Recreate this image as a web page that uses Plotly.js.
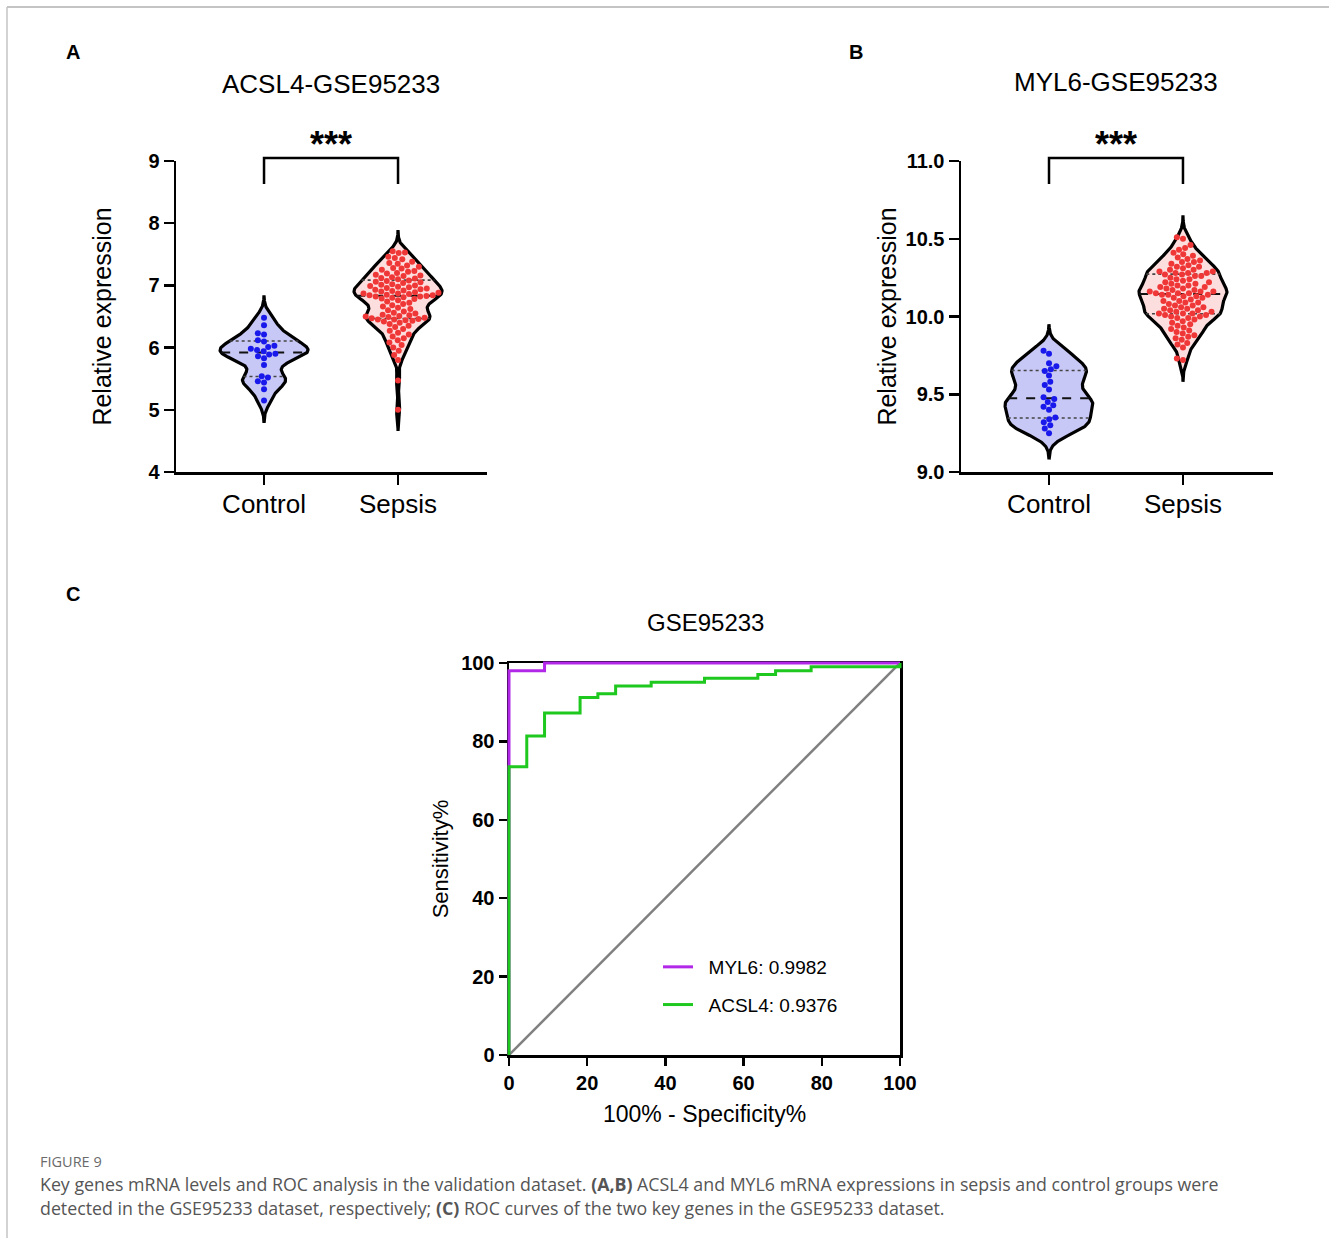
<!DOCTYPE html>
<html><head><meta charset="utf-8">
<script src="https://cdn.plot.ly/plotly-3.0.1.min.js"></script>
<style>html,body{margin:0;padding:0;background:#fff;}#chart{width:1329px;height:1238px;}</style>
</head><body><div id="chart"></div>
<script>
// ---------------- DATA ----------------
const categories = ['Control', 'Sepsis'];
const acsl4Control = [6.48, 6.36, 6.23, 6.21, 6.12, 6.10, 6.03, 6.01, 5.98, 5.96, 5.94, 5.90, 5.89, 5.86, 5.83, 5.72, 5.54, 5.52, 5.46, 5.44, 5.33, 5.15];
const acsl4Sepsis = [7.55, 7.53, 7.52, 7.46, 7.44, 7.42, 7.38, 7.36, 7.35, 7.32, 7.30, 7.28, 7.27, 7.25, 7.23, 7.22, 7.20, 7.19, 7.17, 7.16, 7.15, 7.13, 7.12, 7.11, 7.10,
  7.08, 7.07, 7.06, 7.05, 7.04, 7.02, 7.01, 7.00, 6.99, 6.98, 6.97, 6.96, 6.95, 6.94, 6.93, 6.92, 6.91, 6.90, 6.89, 6.88, 6.87, 6.87, 6.86, 6.85, 6.84, 6.84,
  6.83, 6.82, 6.82, 6.81, 6.80, 6.79, 6.78, 6.76, 6.74, 6.72, 6.70, 6.68, 6.66, 6.64, 6.62, 6.60, 6.58, 6.56, 6.55, 6.53, 6.52, 6.51, 6.50, 6.49, 6.48, 6.47,
  6.46, 6.45, 6.45, 6.44, 6.43, 6.42, 6.40, 6.38, 6.35, 6.33, 6.30, 6.27, 6.24, 6.21, 6.18, 6.15, 6.12, 6.08, 6.04, 6.00, 5.95, 5.88, 5.80, 5.47, 5.00];
const myl6Control = [9.78, 9.76, 9.70, 9.68, 9.66, 9.65, 9.62, 9.58, 9.56, 9.53, 9.48, 9.47, 9.45, 9.43, 9.42, 9.40, 9.35, 9.34, 9.32, 9.30, 9.28, 9.25];
const myl6Sepsis = [10.51, 10.50, 10.46, 10.44, 10.43, 10.41, 10.40, 10.39, 10.38, 10.37, 10.36, 10.35, 10.35, 10.34, 10.33, 10.32, 10.32, 10.31, 10.30, 10.30, 10.29, 10.29, 10.28, 10.28, 10.28,
  10.27, 10.27, 10.26, 10.26, 10.25, 10.24, 10.24, 10.23, 10.22, 10.22, 10.21, 10.21, 10.20, 10.20, 10.19, 10.19, 10.18, 10.18, 10.17, 10.17, 10.16, 10.16, 10.16, 10.15, 10.15, 10.15,
  10.14, 10.14, 10.14, 10.13, 10.13, 10.12, 10.12, 10.11, 10.10, 10.10, 10.09, 10.09, 10.08, 10.07, 10.07, 10.06, 10.06, 10.05, 10.05, 10.04, 10.04, 10.03, 10.03, 10.02, 10.02, 10.02,
  10.01, 10.01, 10.00, 10.00, 9.99, 9.99, 9.98, 9.97, 9.96, 9.95, 9.94, 9.93, 9.92, 9.91, 9.90, 9.89, 9.88, 9.87, 9.86, 9.85, 9.83, 9.82, 9.80, 9.73, 9.72];
// ROC step vertices (100% - specificity %, sensitivity %)
const rocFprACSL4 = [0, 0, 4.545, 9.091, 18.18, 22.73, 27.27, 36.36, 50.00, 63.64, 68.18, 77.27, 100];
const rocTprACSL4 = [0, 73.53, 81.37, 87.25, 91.18, 92.16, 94.12, 95.10, 96.08, 97.06, 98.04, 99.02, 100];
const rocFprMYL6 = [0, 0, 9.091, 100];
const rocTprMYL6 = [0, 98.04, 100, 100];
const refLineX = [0, 100];
const refLineY = [0, 100];
const aucMYL6 = '0.9982';
const aucACSL4 = '0.9376';
const ticksA = [4, 5, 6, 7, 8, 9];
const ticksB = [9.0, 9.5, 10.0, 10.5, 11.0];
const ticksC = [0, 20, 40, 60, 80, 100];
const titleA = 'ACSL4-GSE95233';
const titleB = 'MYL6-GSE95233';
const titleC = 'GSE95233';
const sigLabel = '***';

// ---------------- HELPERS ----------------
const W = 1329, H = 1238;
const FONT = 'Liberation Sans, Arial, sans-serif';
const px = p => p / W;
const py = p => 1 - p / H;

function kde(vals, h, y) {
  let s = 0;
  for (const v of vals) { const z = (y - v) / h; s += Math.exp(-0.5 * z * z); }
  return s / (vals.length * h * Math.sqrt(2 * Math.PI));
}
function quantile(vals, p) {
  const s = [...vals].sort((a, b) => a - b);
  const pos = p * (s.length + 1) - 1;
  const lo = Math.max(0, Math.floor(pos)), hi = Math.min(s.length - 1, lo + 1);
  return s[lo] + (s[hi] - s[lo]) * (pos - lo);
}
function swarm(vals, pxX, pxY, D) {
  const idx = vals.map((v, i) => i).sort((a, b) => vals[a] - vals[b]);
  const placed = [], off = new Array(vals.length);
  for (const i of idx) {
    const y = vals[i] * pxY;
    const iv = [];
    for (const p of placed) {
      const dy = Math.abs(p.y - y);
      if (dy < D) { const dx = Math.sqrt(D * D - dy * dy); iv.push([p.x - dx, p.x + dx]); }
    }
    const c = [0]; iv.forEach(a => c.push(a[0], a[1]));
    c.sort((a, b) => (Math.abs(a) - Math.abs(b)) || (a - b));
    let best = 0;
    for (const x of c) { if (iv.every(a => x <= a[0] + 1e-9 || x >= a[1] - 1e-9)) { best = x; break; } }
    placed.push({ x: best, y }); off[i] = best / pxX;
  }
  return off;
}
function violin(vals, pos, h, ext, fill, dot, xa, ya, pxX, pxY) {
  const halfW = 44 / pxX;
  const lo = Math.min(...vals) - ext, hi = Math.max(...vals) + ext;
  const N = 300, ys = [], ds = [];
  for (let i = 0; i <= N; i++) { const y = lo + (hi - lo) * i / N; ys.push(y); ds.push(kde(vals, h, y)); }
  const scale = halfW / Math.max(...ds);
  const xs = [], yy = [];
  for (let i = 0; i <= N; i++) { xs.push(pos + ds[i] * scale); yy.push(ys[i]); }
  for (let i = N; i >= 0; i--) { xs.push(pos - ds[i] * scale); yy.push(ys[i]); }
  const out = [];
  out.push({ type: 'scatter', mode: 'lines', x: xs, y: yy, fill: 'toself', fillcolor: fill,
    line: { color: '#000', width: 3.2 }, xaxis: xa, yaxis: ya, hoverinfo: 'skip', showlegend: false });
  [[0.25, 'dot', 1.6, '#444'], [0.5, 'dash', 2, '#111'], [0.75, 'dot', 1.6, '#444']].forEach(([p, dash, w, col]) => {
    const q = quantile(vals, p); const hw = kde(vals, h, q) * scale;
    out.push({ type: 'scatter', mode: 'lines', x: [pos - hw, pos + hw], y: [q, q], line: { color: col, width: w, dash: dash },
      xaxis: xa, yaxis: ya, hoverinfo: 'skip', showlegend: false });
  });
  const off = swarm(vals, pxX, pxY, 6.3);
  out.push({ type: 'scatter', mode: 'markers', x: vals.map((v, i) => pos + off[i]), y: vals,
    marker: { color: dot, size: 6 }, xaxis: xa, yaxis: ya, hoverinfo: 'y', showlegend: false });
  return out;
}

// pixel scales
const catPx = 134;
const pyA = (472 - 161) / 5;
const pyB = (472 - 161) / 2;

const traces = [];
traces.push(...violin(acsl4Control, 0, 0.12, 0.36, 'rgb(200,200,246)', 'rgb(25,25,235)', 'x', 'y', catPx, pyA));
traces.push(...violin(acsl4Sepsis, 1, 0.11, 0.34, 'rgb(253,222,222)', 'rgb(240,55,55)', 'x', 'y', catPx, pyA));
traces.push(...violin(myl6Control, 0, 0.055, 0.17, 'rgb(200,200,246)', 'rgb(25,25,235)', 'x2', 'y2', catPx, pyB));
traces.push(...violin(myl6Sepsis, 1, 0.045, 0.14, 'rgb(253,222,222)', 'rgb(240,55,55)', 'x2', 'y2', catPx, pyB));

traces.push({ type: 'scatter', mode: 'lines', x: refLineX, y: refLineY, line: { color: '#808080', width: 2.5 },
  xaxis: 'x3', yaxis: 'y3', showlegend: false, hoverinfo: 'skip' });
traces.push({ type: 'scatter', mode: 'lines', name: '\u00a0\u00a0MYL6: ' + aucMYL6, x: rocFprMYL6, y: rocTprMYL6, legendgroup: 'g1',
  line: { color: 'rgb(178,40,232)', width: 3, shape: 'hv' }, xaxis: 'x4', yaxis: 'y4' });
traces.push({ type: 'scatter', mode: 'lines', name: '\u00a0\u00a0ACSL4: ' + aucACSL4, x: rocFprACSL4, y: rocTprACSL4, legendgroup: 'g2',
  line: { color: 'rgb(30,200,30)', width: 3, shape: 'hv' }, xaxis: 'x4', yaxis: 'y4' });

const axisBase = { showline: true, linecolor: '#000', linewidth: 2.5, ticks: 'outside', ticklen: 10, tickwidth: 2.5,
  tickcolor: '#000', showgrid: false, zeroline: false, fixedrange: true };
const tickBold = { family: FONT, size: 20, color: '#000', weight: 'bold' };
const catFont = { family: FONT, size: 26, color: '#000' };
const ttlFont = { family: FONT, size: 25, color: '#000' };

const rocPxX = (900 - 509) / 100, rocPxY = (1055 - 663) / 100, padPx = 12;

const layout = {
  width: W, height: H, margin: { l: 0, r: 0, t: 0, b: 0 }, paper_bgcolor: '#fff', plot_bgcolor: 'rgba(0,0,0,0)',
  font: { family: FONT, color: '#000' },
  showlegend: true,
  legend: { x: px(658), y: py(948), xanchor: 'left', yanchor: 'top', bgcolor: 'rgba(0,0,0,0)',
    font: { family: FONT, size: 19, color: '#000' }, traceorder: 'grouped', itemwidth: 30, tracegroupgap: 10 },
  xaxis: Object.assign({}, axisBase, { domain: [px(176), px(487)], range: [-0.657, 1.664], tickvals: [0, 1], ticktext: categories,
    tickfont: catFont, anchor: 'y', ticklabelstandoff: -3 }),
  yaxis: Object.assign({}, axisBase, { domain: [py(472), py(161)], range: [4, 9], tickvals: ticksA, tickfont: tickBold, anchor: 'x',
    title: { text: 'Relative expression', font: ttlFont, standoff: 30 } }),
  xaxis2: Object.assign({}, axisBase, { domain: [px(961), px(1273)], range: [-0.657, 1.672], tickvals: [0, 1], ticktext: categories,
    tickfont: catFont, anchor: 'y2', ticklabelstandoff: -3 }),
  yaxis2: Object.assign({}, axisBase, { domain: [py(472), py(161)], range: [9, 11], tickvals: ticksB, tickformat: '.1f', tickfont: tickBold, anchor: 'x2',
    title: { text: 'Relative expression', font: ttlFont, standoff: 2 } }),
  xaxis3: Object.assign({}, axisBase, { domain: [px(509), px(900)], range: [0, 100], tickvals: ticksC, ticklen: 8, tickfont: tickBold, anchor: 'y3', mirror: true,
    title: { text: '100% - Specificity%', font: { family: FONT, size: 23, color: '#000' }, standoff: 14 } }),
  yaxis3: Object.assign({}, axisBase, { domain: [py(1055), py(663)], range: [0, 100], tickvals: ticksC, ticklen: 8, tickfont: tickBold, anchor: 'x3', mirror: true,
    title: { text: 'Sensitivity%', font: { family: FONT, size: 22, color: '#000' }, standoff: 7 } }),
  xaxis4: { domain: [px(509 - padPx), px(900 + padPx)], range: [-padPx / rocPxX, 100 + padPx / rocPxX], visible: false, anchor: 'y4', fixedrange: true },
  yaxis4: { domain: [py(1055 + padPx), py(663 - padPx)], range: [-padPx / rocPxY, 100 + padPx / rocPxY], visible: false, anchor: 'x4', fixedrange: true },
  shapes: [
    { type: 'line', xref: 'paper', yref: 'paper', x0: px(7), x1: 1, y0: py(7), y1: py(7), line: { color: '#c4c4c4', width: 2 } },
    { type: 'line', xref: 'paper', yref: 'paper', x0: px(7), x1: px(7), y0: py(7), y1: 0, line: { color: '#c4c4c4', width: 1.5 } },
    { type: 'path', xref: 'x', yref: 'paper', path: `M0,${py(184)} L0,${py(158)} L1,${py(158)} L1,${py(184)}`, line: { color: '#000', width: 2.5 } },
    { type: 'path', xref: 'x2', yref: 'paper', path: `M0,${py(184)} L0,${py(158)} L1,${py(158)} L1,${py(184)}`, line: { color: '#000', width: 2.5 } }
  ],
  annotations: [
    { text: '<b>A</b>', x: px(73), y: py(52), xref: 'paper', yref: 'paper', showarrow: false, font: { family: FONT, size: 20 }, xanchor: 'center', yanchor: 'middle' },
    { text: '<b>B</b>', x: px(856), y: py(52), xref: 'paper', yref: 'paper', showarrow: false, font: { family: FONT, size: 20 }, xanchor: 'center', yanchor: 'middle' },
    { text: '<b>C</b>', x: px(73), y: py(594), xref: 'paper', yref: 'paper', showarrow: false, font: { family: FONT, size: 20 }, xanchor: 'center', yanchor: 'middle' },
    { text: titleA, x: px(331), y: py(84), xref: 'paper', yref: 'paper', showarrow: false, font: { family: FONT, size: 26 }, xanchor: 'center', yanchor: 'middle' },
    { text: titleB, x: px(1116), y: py(82), xref: 'paper', yref: 'paper', showarrow: false, font: { family: FONT, size: 26 }, xanchor: 'center', yanchor: 'middle' },
    { text: titleC, x: px(705), y: py(622), xref: 'paper', yref: 'paper', showarrow: false, font: { family: FONT, size: 24 }, xanchor: 'center', yanchor: 'middle' },
    { text: '<b>' + sigLabel + '</b>', x: 0.5, xref: 'x', y: py(144), yref: 'paper', showarrow: false, font: { family: FONT, size: 36 }, xanchor: 'center', yanchor: 'middle' },
    { text: '<b>' + sigLabel + '</b>', x: 0.5, xref: 'x2', y: py(144), yref: 'paper', showarrow: false, font: { family: FONT, size: 36 }, xanchor: 'center', yanchor: 'middle' },
    { text: 'FIGURE 9', x: px(38), y: py(1161), xref: 'paper', yref: 'paper', showarrow: false, font: { family: 'Open Sans', size: 14.5, color: '#6a6a6a' }, xanchor: 'left', yanchor: 'middle' },
    { text: 'Key genes mRNA levels and ROC analysis in the validation dataset. <b>(A,B)</b> ACSL4 and MYL6 mRNA expressions in sepsis and control groups were',
      x: px(38), y: py(1184), xref: 'paper', yref: 'paper', showarrow: false, font: { family: 'Open Sans', size: 17.8, color: '#555' }, xanchor: 'left', yanchor: 'middle' },
    { text: 'detected in the GSE95233 dataset, respectively; <b>(C)</b> ROC curves of the two key genes in the GSE95233 dataset.',
      x: px(38), y: py(1208), xref: 'paper', yref: 'paper', showarrow: false, font: { family: 'Open Sans', size: 17.8, color: '#555' }, xanchor: 'left', yanchor: 'middle' }
  ]
};

Plotly.newPlot('chart', traces, layout, { staticPlot: true, displayModeBar: false });
</script></body></html>
